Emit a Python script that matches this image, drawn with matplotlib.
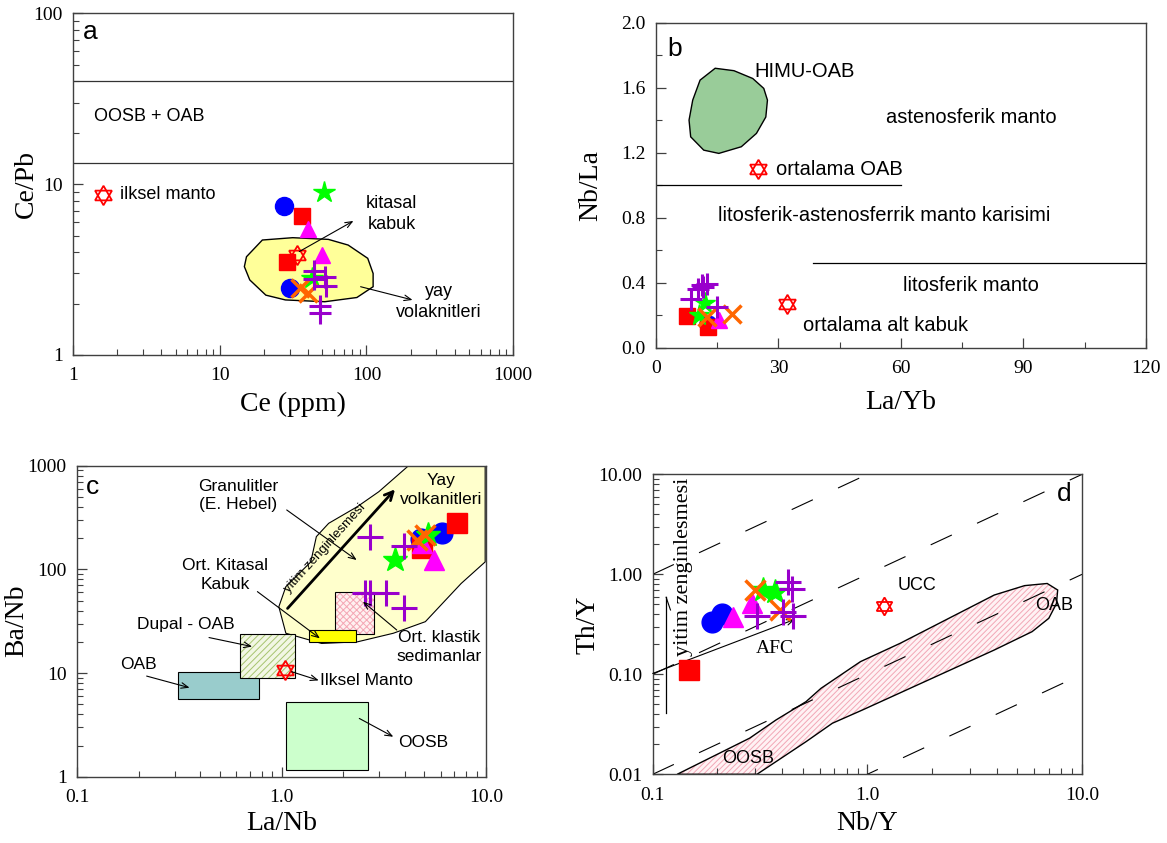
import matplotlib
matplotlib.use('Agg')
import matplotlib.pyplot as plt
from matplotlib.patches import Polygon, Rectangle
from matplotlib.ticker import NullFormatter, MultipleLocator
import numpy as np

plt.rcParams['font.family'] = 'Liberation Sans'
plt.rcParams['hatch.linewidth'] = 0.7
SERIF = 'Liberation Serif'

# ---------------- panel a : Ce (ppm) vs Ce/Pb
a_circle_x = [27.5, 30.0]
a_circle_y = [7.48, 2.46]
a_square_x = [36.1, 28.5]
a_square_y = [6.54, 3.52]
a_triangle_x = [40.1, 49.4]
a_triangle_y = [5.47, 3.85]
a_star_x = [51.5, 42.2]
a_star_y = [9.03, 2.81]
a_x_x = [35.2, 40.1]
a_x_y = [2.46, 2.30]
a_plus_x = [43.8, 43.8, 52.0, 52.9, 48.1, 48.1]
a_plus_y = [3.10, 2.79, 2.87, 2.53, 1.94, 1.77]
a_ref_x = [1.59, 33.4]          # ilksel manto, kitasal kabuk
a_ref_y = [8.64, 3.85]
a_limits = [40, 13.3]
a_field_x = [15.2, 19.5, 31.4, 55, 75, 102, 111, 111, 86, 52, 28, 20.6, 16, 14.7]
a_field_y = [3.76, 4.71, 4.86, 4.75, 4.4, 3.68, 3.0, 2.51, 2.17, 2.05, 2.1, 2.24, 2.75, 3.29]

# ---------------- panel b : La/Yb vs Nb/La
b_circle_x = [12.8]
b_circle_y = [0.148]
b_square_x = [7.5, 12.8]
b_square_y = [0.195, 0.127]
b_triangle_x = [15.5]
b_triangle_y = [0.168]
b_star_x = [12.0, 10.6]
b_star_y = [0.277, 0.203]
b_x_x = [12.4, 18.5]
b_x_y = [0.189, 0.209]
b_plus_x = [8.7, 10.4, 11.2, 11.6, 12.4, 14.9]
b_plus_y = [0.30, 0.363, 0.384, 0.373, 0.394, 0.25]
b_ref_x = [25.0, 32.0]          # ortalama OAB, ortalama alt kabuk
b_ref_y = [1.10, 0.27]
b_himu_x = [14.5, 19.1, 23.7, 26.4, 27.3, 26.9, 24.6, 20.9, 15.4, 11.7, 8.5, 8.1, 9.0, 10.8]
b_himu_y = [1.72, 1.705, 1.657, 1.596, 1.524, 1.42, 1.319, 1.237, 1.196, 1.216, 1.298, 1.401, 1.524, 1.647]

# ---------------- panel c : La/Nb vs Ba/Nb
c_circle_x = [6.07, 4.8]
c_circle_y = [223, 198]
c_square_x = [7.19, 4.85]
c_square_y = [278, 160]
c_triangle_x = [5.57, 4.85]
c_triangle_y = [123, 178]
c_star_x = [3.59, 5.23]
c_star_y = [123, 214]
c_x_x = [4.58, 5.04]
c_x_y = [192, 214]
c_plus_x = [2.71, 3.95, 2.55, 2.7, 3.24, 3.96]
c_plus_y = [207, 168, 59.6, 59.6, 59.6, 42]
c_ref_x = [1.04]                # ilksel manto
c_ref_y = [10.8]
c_arc_x = [4.18, 9.9, 9.9, 7.55, 5.05, 3.52, 2.35, 1.57, 1.05, 0.97, 1.05, 1.39, 1.48, 1.70, 2.35, 2.99]
c_arc_y = [1000, 1000, 118, 73, 31.3, 24.2, 20.0, 19.3, 24.2, 43.6, 68.1, 118, 207, 278, 403, 561]
# boxes: (x0, x1, y0, y1)
c_oab = (0.311, 0.78, 5.57, 10.3)
c_dupal = (0.626, 1.158, 8.89, 23.6)
c_oosb = (1.05, 2.65, 1.16, 5.29)
c_kitasal = (1.355, 2.30, 19.8, 26.0)
c_klastik = (1.83, 2.82, 23.8, 60.0)

# ---------------- panel d : Nb/Y vs Th/Y
d_circle_x = [0.188, 0.21]
d_circle_y = [0.336, 0.40]
d_square_x = [0.147]
d_square_y = [0.110]
d_triangle_x = [0.237, 0.289]
d_triangle_y = [0.377, 0.513]
d_star_x = [0.327, 0.371]
d_star_y = [0.697, 0.67]
d_x_x = [0.299, 0.392]
d_x_y = [0.697, 0.44]
d_plus_x = [0.428, 0.444, 0.305, 0.405, 0.452]
d_plus_y = [0.84, 0.72, 0.386, 0.42, 0.386]
d_ref_x = [1.2]                 # UCC
d_ref_y = [0.48]
d_thnb = [10, 1, 0.1, 0.01]
d_array_x = [0.13, 0.283, 0.375, 0.518, 0.608, 0.929, 1.42, 3.9, 5.4, 6.88, 7.7, 7.6, 7.0, 5.85,
             3.9, 0.949, 0.687, 0.518, 0.306]
d_array_y = [0.01, 0.023, 0.0349, 0.0533, 0.0724, 0.134, 0.204, 0.621, 0.771, 0.81, 0.697, 0.51, 0.363, 0.267,
             0.175, 0.044, 0.0324, 0.0212, 0.01]

groups = ['circle', 'square', 'triangle', 'star', 'x', 'plus']
mstyle = {
    'circle': dict(marker='o', color='#0000FF'),
    'square': dict(marker='s', color='#FF0000'),
    'triangle': dict(marker='^', color='#FF00FF'),
    'star': dict(marker='*', color='#00FF00'),
    'x': dict(marker='x', color='#FF6600', mew=2.5),
    'plus': dict(marker='+', color='#9900CC', mew=2.2),
}
msize = {'circle': 13, 'square': 12, 'triangle': 12, 'star': 16, 'x': 13, 'plus': 16}


def plot_groups(ax, data, scale=1.0):
    for g in groups:
        xs, ys = data[g]
        ax.plot(xs, ys, ls='none', ms=msize[g] * scale, zorder=5, **mstyle[g])


def david(ax, xs, ys, ms=14):
    for ang in (0, 180):
        ax.plot(xs, ys, ls='none', marker=(3, 0, ang), ms=ms, mfc='none',
                mec='#FF0000', mew=1.3, zorder=6)


def frame(ax, xlabel, ylabel, xlab_y, ylab_x):
    for sp in ax.spines.values():
        sp.set_linewidth(1.0)
        sp.set_color('#404040')
    ax.tick_params(which='both', direction='in', top=False, right=False, color='#404040',
                   labelsize=14, labelfontfamily=SERIF)
    ax.tick_params(axis='x', pad=9)
    ax.tick_params(axis='y', pad=7.5)
    ax.tick_params(which='major', length=7, width=0.9)
    ax.tick_params(which='minor', length=4, width=0.8)
    ax.set_xlabel(xlabel, family=SERIF, fontsize=20, va='center')
    ax.set_ylabel(ylabel, family=SERIF, fontsize=20, va='center')
    ax.xaxis.set_label_coords(0.5, xlab_y)
    ax.yaxis.set_label_coords(ylab_x, 0.5)


def pointer(ax, start, end, lw=0.8):
    ax.annotate('', xy=end, xytext=start,
                arrowprops=dict(arrowstyle='->,head_length=0.5,head_width=0.2', lw=lw,
                                color='black', shrinkA=0, shrinkB=0), zorder=7)


def box(ax, b, **kw):
    ax.add_patch(Rectangle((b[0], b[2]), b[1] - b[0], b[3] - b[2], **kw))


fig = plt.figure(figsize=(11.67, 8.43), dpi=100)

# ============ a
ax = fig.add_axes([0.0627, 0.5789, 0.3770, 0.4053])
ax.set_xscale('log'); ax.set_yscale('log')
ax.set_xlim(1, 1000); ax.set_ylim(1, 100)
ax.set_xticks([1, 10, 100, 1000], ['1', '10', '100', '1000'])
ax.set_yticks([1, 10, 100], ['1', '10', '100'])
ax.xaxis.set_minor_formatter(NullFormatter()); ax.yaxis.set_minor_formatter(NullFormatter())
frame(ax, 'Ce (ppm)', 'Ce/Pb', -0.146, -0.107)
for v in a_limits:
    ax.axhline(v, color='#333333', lw=0.9, zorder=2)
ax.add_patch(Polygon(list(zip(a_field_x, a_field_y)), closed=True, fc='#FFFF99', ec='black', lw=1.0, zorder=1))
plot_groups(ax, {'circle': (a_circle_x, a_circle_y), 'square': (a_square_x, a_square_y),
                 'triangle': (a_triangle_x, a_triangle_y), 'star': (a_star_x, a_star_y),
                 'x': (a_x_x, a_x_y), 'plus': (a_plus_x, a_plus_y)})
david(ax, a_ref_x, a_ref_y)
ax.text(1.31, 78, 'a', fontsize=19, ha='center', va='center')
ax.text(3.3, 25, 'OOSB + OAB', fontsize=13, ha='center', va='center')
ax.text(2.07, 8.64, 'ilksel manto', fontsize=13, ha='left', va='center')
ax.text(149, 6.69, 'kitasal\nkabuk', fontsize=13, ha='center', va='center', linespacing=1.3)
ax.text(310, 2.05, 'yay\nvolaknitleri', fontsize=13, ha='center', va='center', linespacing=1.3)
pointer(ax, (34.8, 4.03), (81.5, 6.09))
pointer(ax, (91.2, 2.51), (206, 2.1))

# ============ b
ax = fig.add_axes([0.5621, 0.5875, 0.4199, 0.3855])
ax.set_xlim(0, 120); ax.set_ylim(0, 2)
ax.set_xticks([0, 30, 60, 90, 120])
ax.xaxis.set_minor_locator(MultipleLocator(15))
yt = np.arange(0, 2.01, 0.4)
ax.set_yticks(yt, [f'{v:.1f}' for v in yt])
ax.yaxis.set_minor_locator(MultipleLocator(0.2))
frame(ax, 'La/Yb', 'Nb/La', -0.17, -0.133)
ax.plot([0, 60], [1.0, 1.0], color='black', lw=0.9, zorder=2)
ax.plot([38.5, 120], [0.52, 0.52], color='black', lw=0.9, zorder=2)
ax.add_patch(Polygon(list(zip(b_himu_x, b_himu_y)), closed=True, fc='#99CC99', ec='black', lw=1.0, zorder=1))
plot_groups(ax, {'circle': (b_circle_x, b_circle_y), 'square': (b_square_x, b_square_y),
                 'triangle': (b_triangle_x, b_triangle_y), 'star': (b_star_x, b_star_y),
                 'x': (b_x_x, b_x_y), 'plus': (b_plus_x, b_plus_y)}, scale=0.95)
david(ax, b_ref_x, b_ref_y)
fs_b = 14.5
ax.text(4.5, 1.84, 'b', fontsize=19, ha='center', va='center')
ax.text(24.1, 1.70, 'HIMU-OAB', fontsize=fs_b, ha='left', va='center')
ax.text(77.3, 1.42, 'astenosferik manto', fontsize=fs_b, ha='center', va='center')
ax.text(29.4, 1.10, 'ortalama OAB', fontsize=fs_b, ha='left', va='center')
ax.text(55.8, 0.816, 'litosferik-astenosferrik manto karisimi', fontsize=fs_b, ha='center', va='center')
ax.text(77.1, 0.381, 'litosferik manto', fontsize=fs_b, ha='center', va='center')
ax.text(56.2, 0.139, 'ortalama alt kabuk', fontsize=fs_b, ha='center', va='center')

# ============ c
ax = fig.add_axes([0.0660, 0.0786, 0.3505, 0.3690])
ax.set_xscale('log'); ax.set_yscale('log')
ax.set_xlim(0.1, 10); ax.set_ylim(1, 1000)
ax.set_xticks([0.1, 1, 10], ['0.1', '1.0', '10.0'])
ax.set_yticks([1, 10, 100, 1000], ['1', '10', '100', '1000'])
ax.xaxis.set_minor_formatter(NullFormatter()); ax.yaxis.set_minor_formatter(NullFormatter())
frame(ax, 'La/Nb', 'Ba/Nb', -0.149, -0.147)
ax.add_patch(Polygon(list(zip(c_arc_x, c_arc_y)), closed=True, fc='#FFFFCC', ec='black', lw=0.8, zorder=1))
box(ax, c_oab, fc='#99CCCC', ec='black', lw=0.8, zorder=2)
box(ax, c_dupal, fc='#F2F7E4', ec='#A6C46E', hatch='/////', lw=0, zorder=2)
box(ax, c_dupal, fc='none', ec='black', lw=0.8, zorder=2)
box(ax, c_oosb, fc='#CCFFCC', ec='black', lw=0.8, zorder=2)
box(ax, c_klastik, fc='#FFF0F0', ec='#F4A6B4', hatch='xxxxx', lw=0, zorder=2)
box(ax, c_klastik, fc='none', ec='black', lw=0.8, zorder=2)
box(ax, c_kitasal, fc='#FFFF00', ec='black', lw=0.8, zorder=2)
plot_groups(ax, {'circle': (c_circle_x, c_circle_y), 'square': (c_square_x, c_square_y),
                 'triangle': (c_triangle_x, c_triangle_y), 'star': (c_star_x, c_star_y),
                 'x': (c_x_x, c_x_y), 'plus': (c_plus_x, c_plus_y)}, scale=1.15)
david(ax, c_ref_x, c_ref_y)
ax.annotate('', xy=(3.59, 591), xytext=(1.07, 42),
            arrowprops=dict(arrowstyle='->,head_length=0.6,head_width=0.3', lw=2.0,
                            color='black', shrinkA=0, shrinkB=0), zorder=4)
ax.text(1.63, 160, 'yitim zenginlesmesi', fontsize=9.5, rotation=48, ha='center', va='center')
ax.text(0.119, 627, 'c', fontsize=19, ha='center', va='center')
ax.text(0.611, 514, 'Granulitler\n(E. Hebel)', fontsize=12.5, ha='center', va='center', linespacing=1.3)
ax.text(6.0, 582, 'Yay\nvolkanitleri', fontsize=12.5, ha='center', va='center', linespacing=1.3)
ax.text(0.531, 88, 'Ort. Kitasal\nKabuk', fontsize=12.5, ha='center', va='center', linespacing=1.3)
ax.text(0.341, 29.7, 'Dupal - OAB', fontsize=12.5, ha='center', va='center')
ax.text(0.2, 12.1, 'OAB', fontsize=12.5, ha='center', va='center')
ax.text(1.54, 8.43, 'Ilksel Manto', fontsize=12.5, ha='left', va='center')
ax.text(5.87, 17.9, 'Ort. klastik\nsedimanlar', fontsize=12.5, ha='center', va='center', linespacing=1.3)
ax.text(4.94, 2.14, 'OOSB', fontsize=12.5, ha='center', va='center')
pointer(ax, (1.06, 374), (2.33, 123))
pointer(ax, (0.762, 61), (1.54, 21.6))
pointer(ax, (0.442, 22), (0.718, 18))
pointer(ax, (0.219, 9.35), (0.355, 7.22))
pointer(ax, (1.12, 10.3), (1.52, 8.5))
pointer(ax, (3.66, 26), (2.5, 48.8))
pointer(ax, (2.4, 3.65), (3.52, 2.43))

# ============ d
ax = fig.add_axes([0.5593, 0.0815, 0.3679, 0.3558])
ax.set_xscale('log'); ax.set_yscale('log')
ax.set_xlim(0.1, 10); ax.set_ylim(0.01, 10)
ax.set_xticks([0.1, 1, 10], ['0.1', '1.0', '10.0'])
ax.set_yticks([0.01, 0.1, 1, 10], ['0.01', '0.10', '1.00', '10.00'])
ax.xaxis.set_minor_formatter(NullFormatter()); ax.yaxis.set_minor_formatter(NullFormatter())
frame(ax, 'Nb/Y', 'Th/Y', -0.163, -0.151)
ax.add_patch(Polygon(list(zip(d_array_x, d_array_y)), closed=True, fc='#FFF2F4', ec='#F2A7B6',
                     hatch='//////', lw=0, zorder=1))
ax.add_patch(Polygon(list(zip(d_array_x, d_array_y)), closed=True, fc='none', ec='black', lw=1.0, zorder=2))
xx = np.array([0.1, 10.0])
for k in d_thnb:
    ax.plot(xx, k * xx, color='black', lw=0.8, ls=(0, (21, 25)), zorder=2)
ax.annotate('', xy=(0.46, 0.355), xytext=(0.1, 0.102),
            arrowprops=dict(arrowstyle='->,head_length=0.5,head_width=0.2', lw=0.8,
                            color='black', shrinkA=0, shrinkB=0), zorder=3)
ax.plot([0.1153, 0.1153], [0.0407, 0.597], color='black', lw=0.9, zorder=3)
ax.plot([0.1155, 0.121], [0.59, 0.44], color='black', lw=0.8, zorder=3)
plot_groups(ax, {'circle': (d_circle_x, d_circle_y), 'square': (d_square_x, d_square_y),
                 'triangle': (d_triangle_x, d_triangle_y), 'star': (d_star_x, d_star_y),
                 'x': (d_x_x, d_x_y), 'plus': (d_plus_x, d_plus_y)}, scale=1.15)
david(ax, d_ref_x, d_ref_y, ms=13)
ax.text(8.24, 6.36, 'd', fontsize=19, ha='center', va='center')
ax.text(1.7, 0.78, 'UCC', fontsize=13, ha='center', va='center')
ax.text(7.4, 0.49, 'OAB', fontsize=13, ha='center', va='center')
ax.text(0.277, 0.0145, 'OOSB', fontsize=13, ha='center', va='center')
ax.text(0.371, 0.182, 'AFC', fontsize=14, family=SERIF, ha='center', va='center')
ax.text(0.139, 1.19, 'yitim zenginlesmesi', fontsize=16, family=SERIF, rotation=90,
        ha='center', va='center')

fig.savefig('out.png', dpi=100)
